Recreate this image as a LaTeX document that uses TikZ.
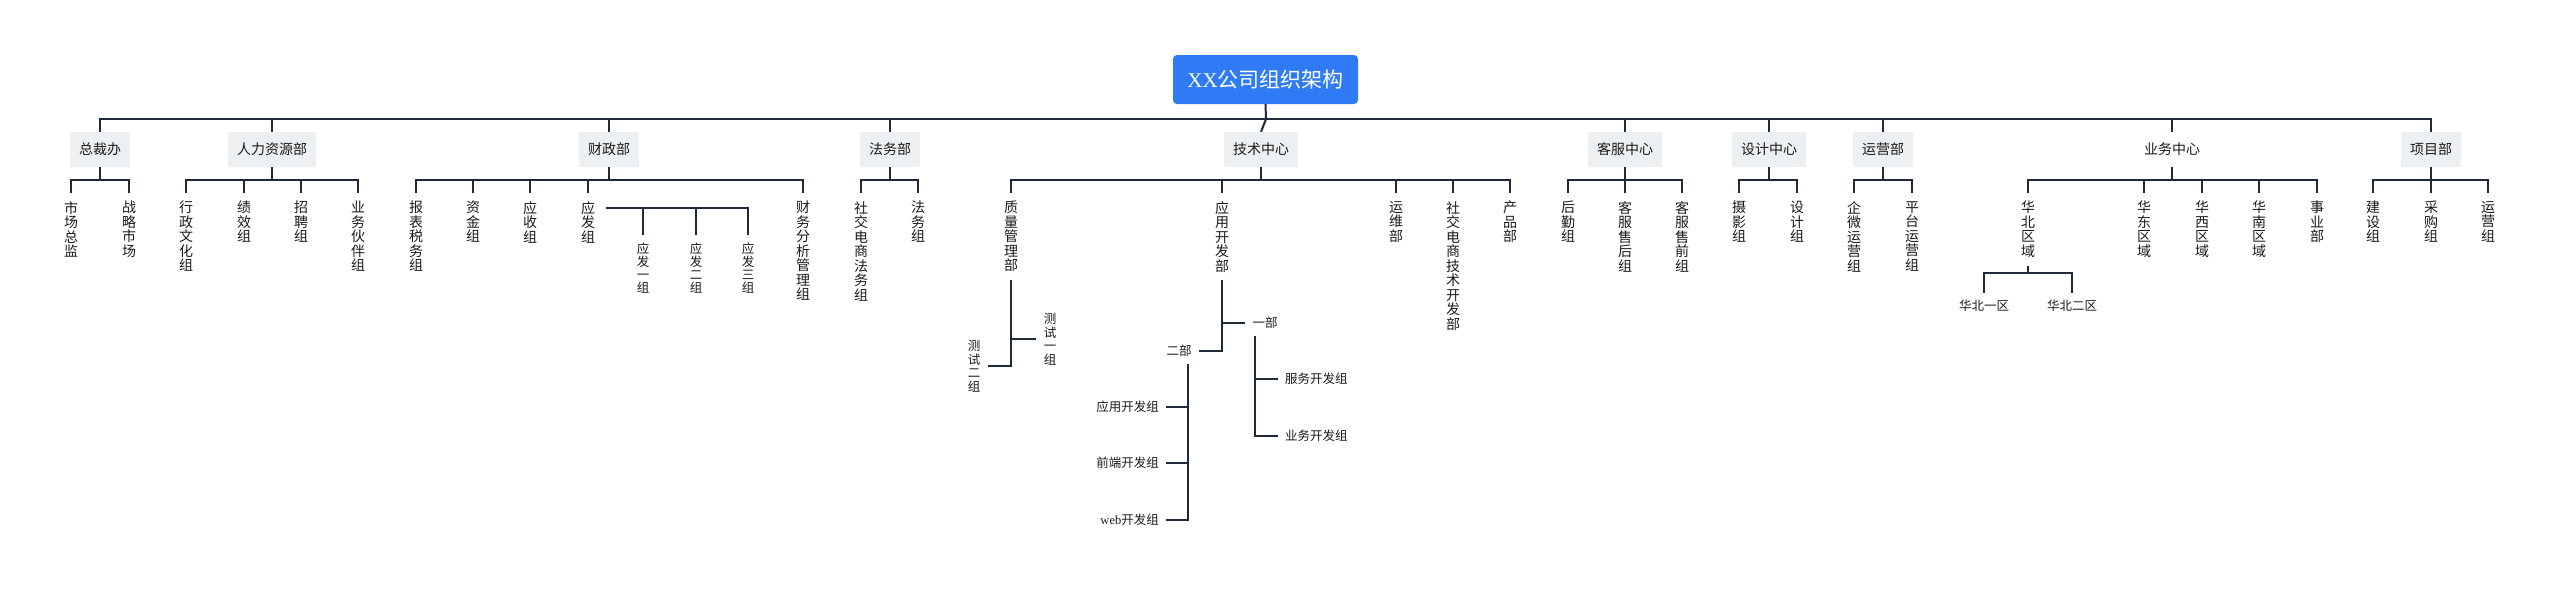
\documentclass[tikz,border=0pt]{standalone}
\usepackage{fontspec}
\setmainfont{Noto Sans CJK SC}
\newfontfamily\latinfont{Liberation Serif}

\definecolor{linecol}{HTML}{1E2A3A}
\definecolor{rootblue}{HTML}{2F7BF6}
\definecolor{deptgray}{HTML}{EDF0F3}
\definecolor{textcol}{HTML}{1A1A1A}

% vertical text: one character per line
\def\vtloop#1{\ifx\relax#1\else\hbox to 1em{\hss#1\hss}\expandafter\vtloop\fi}
\newcommand\vtext[2][14.5pt]{\edef\vtarg{#2}\vtop{\baselineskip=#1\expandafter\vtloop\vtarg\relax}}

\tikzset{
  tree/.style={draw=linecol, line width=2pt},
  root/.style={fill=rootblue, text=white, rounded corners=4pt, minimum width=185pt, minimum height=49pt, font=\fontsize{21}{24}\selectfont},
  dept/.style={fill=deptgray, text=textcol, minimum width=60pt, minimum height=35pt, inner xsep=9pt, inner ysep=0pt, font=\fontsize{14}{16}\selectfont},
  vlab/.style={anchor=north, text=textcol, inner sep=8pt, font=\fontsize{14}{16}\selectfont},
  vsmall/.style={vlab, font=\fontsize{12.5}{13}\selectfont},
  small/.style={text=textcol, inner sep=7pt, font=\fontsize{12.5}{13.5}\selectfont},
}

\begin{document}
\begin{tikzpicture}[x=1pt, y=-1pt]
    \useasboundingbox (0,0) rectangle (2560,589);

    % root and main bus
    \node[root] (top) at (1265.5,79.5) {{\latinfont XX}公司组织架构};
    \coordinate (busm) at (1266,119);
    \draw[tree] (top.south) -- (busm);

    % departments
    \node[dept] (zcb) at (100,149.5) {总裁办};
    \node[dept] (rlzy) at (272,149.5) {人力资源部};
    \node[dept] (czb) at (609,149.5) {财政部};
    \node[dept] (fwb) at (890,149.5) {法务部};
    \node[dept] (jszx) at (1261,149.5) {技术中心};
    \node[dept] (kfzx) at (1625,149.5) {客服中心};
    \node[dept] (sjzx) at (1769,149.5) {设计中心};
    \node[dept] (yyb) at (1883,149.5) {运营部};
    \node[dept, fill=none] (ywzx) at (2172,149.5) {业务中心};
    \node[dept] (xmb) at (2431,149.5) {项目部};

    \foreach \d in {zcb, rlzy, czb, fwb, kfzx, sjzx, yyb, ywzx, xmb} {
        \draw[tree] (busm) -| (\d.north);
    }
    \draw[tree] (busm) -- (jszx.north);

    % 总裁办
    \foreach \x/\lab [count=\i] in {71/市场总监,129/战略市场} {
        \node[vlab] (zcb\i) at (\x,193) {\vtext{\lab}};
        \draw[tree] (zcb.south) -- ++(0,13) -| (zcb\i.north);
    }

    % 人力资源部
    \foreach \x/\lab [count=\i] in {186/行政文化组,244/绩效组,301/招聘组,358/业务伙伴组} {
        \node[vlab] (rlzy\i) at (\x,193) {\vtext{\lab}};
        \draw[tree] (rlzy.south) -- ++(0,13) -| (rlzy\i.north);
    }

    % 财政部
    \foreach \x/\lab [count=\i] in {416/报表税务组,473/资金组,530/应收组,588/应发组,803/财务分析管理组} {
        \node[vlab] (czb\i) at (\x,193) {\vtext{\lab}};
        \draw[tree] (czb.south) -- ++(0,13) -| (czb\i.north);
    }
    \foreach \x/\lab [count=\i] in {643/应发一组,696/应发二组,748/应发三组} {
        \node[vsmall] (yf\i) at (\x,235) {\vtext[13pt]{\lab}};
        \draw[tree] ([xshift=3pt,yshift=-15pt]czb4.north east) -| (yf\i.north);
    }

    % 法务部
    \foreach \x/\lab [count=\i] in {861/社交电商法务组,918/法务组} {
        \node[vlab] (fwb\i) at (\x,193) {\vtext{\lab}};
        \draw[tree] (fwb.south) -- ++(0,13) -| (fwb\i.north);
    }

    % 技术中心
    \foreach \x/\lab [count=\i] in {1011/质量管理部,1222/应用开发部,1396/运维部,1453/社交电商技术开发部,1510/产品部} {
        \node[vlab] (jszx\i) at (\x,193) {\vtext{\lab}};
        \draw[tree] (jszx.south) -- ++(0,13) -| (jszx\i.north);
    }
    \node[vsmall, anchor=center] (cs1) at (1050,339) {\vtext[13.5pt]{测试一组}};
    \node[vsmall, anchor=center] (cs2) at (974,366) {\vtext[13.5pt]{测试二组}};
    \draw[tree] (jszx1.south) |- (cs1.west);
    \draw[tree] (jszx1.south) |- (cs2.east);

    \node[small] (yb) at (1265,323) {一部};
    \node[small] (eb) at (1179,351) {二部};
    \draw[tree] (jszx2.south) |- (yb.west);
    \draw[tree] (jszx2.south) |- (eb.east);
    \foreach \y/\lab [count=\i] in {407/应用开发组,463/前端开发组,520/{\latinfont web}开发组} {
        \node[small, anchor=east] (ek\i) at (1166,\y) {\lab};
        \draw[tree] ([xshift=9pt]eb.south) |- (ek\i.east);
    }
    \foreach \y/\lab [count=\i] in {379/服务开发组,436/业务开发组} {
        \node[small, anchor=west] (yk\i) at (1278,\y) {\lab};
        \draw[tree] ([xshift=-10pt]yb.south) |- (yk\i.west);
    }

    % 客服中心
    \foreach \x/\lab [count=\i] in {1568/后勤组,1625/客服售后组,1682/客服售前组} {
        \node[vlab] (kfzx\i) at (\x,193) {\vtext{\lab}};
        \draw[tree] (kfzx.south) -- ++(0,13) -| (kfzx\i.north);
    }

    % 设计中心
    \foreach \x/\lab [count=\i] in {1739/摄影组,1797/设计组} {
        \node[vlab] (sjzx\i) at (\x,193) {\vtext{\lab}};
        \draw[tree] (sjzx.south) -- ++(0,13) -| (sjzx\i.north);
    }

    % 运营部
    \foreach \x/\lab [count=\i] in {1854/企微运营组,1912/平台运营组} {
        \node[vlab] (yyb\i) at (\x,193) {\vtext{\lab}};
        \draw[tree] (yyb.south) -- ++(0,13) -| (yyb\i.north);
    }

    % 业务中心
    \foreach \x/\lab [count=\i] in {2028/华北区域,2144/华东区域,2202/华西区域,2259/华南区域,2317/事业部} {
        \node[vlab] (ywzx\i) at (\x,193) {\vtext{\lab}};
        \draw[tree] (ywzx.south) -- ++(0,13) -| (ywzx\i.north);
    }
    \foreach \x/\lab [count=\i] in {1984/华北一区,2072/华北二区} {
        \node[small, anchor=north] (hb\i) at (\x,293) {\lab};
        \draw[tree] (ywzx1.south) -- ++(0,7) -| (hb\i.north);
    }

    % 项目部
    \foreach \x/\lab [count=\i] in {2373/建设组,2431/采购组,2488/运营组} {
        \node[vlab] (xmb\i) at (\x,193) {\vtext{\lab}};
        \draw[tree] (xmb.south) -- ++(0,13) -| (xmb\i.north);
    }
\end{tikzpicture}
\end{document}
